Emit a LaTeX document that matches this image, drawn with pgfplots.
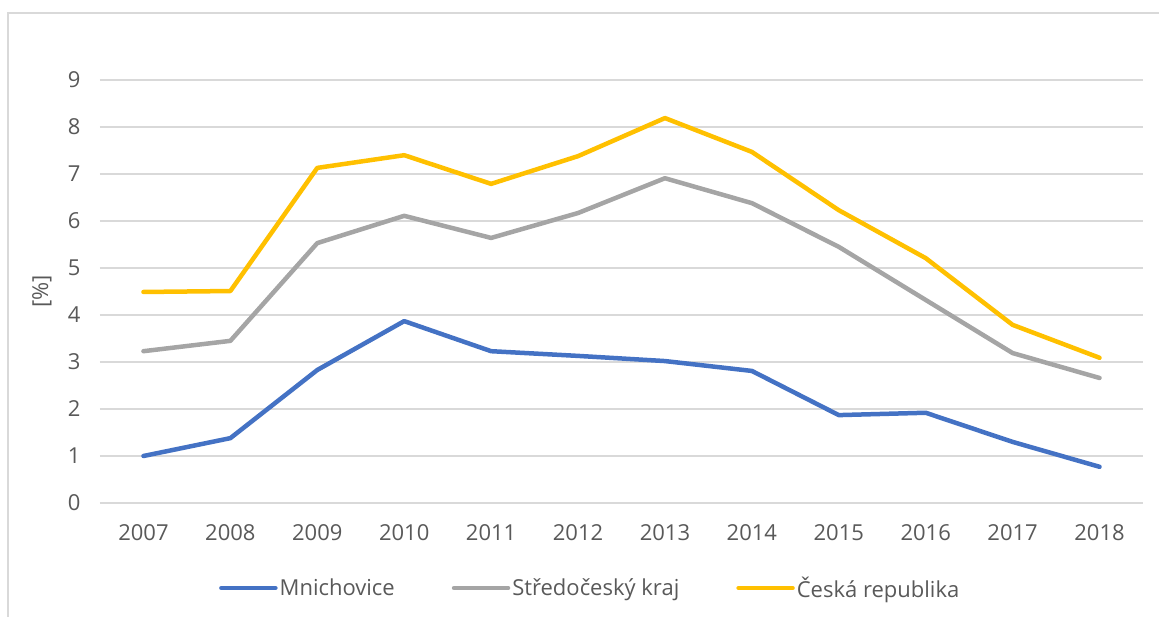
\documentclass[border=0pt]{standalone}
\usepackage{pgfplots}
\pgfplotsset{compat=1.18}
\usepackage{fontspec}
\setmainfont{Open Sans}
\definecolor{cblue}{HTML}{4472C4}
\definecolor{cgray}{HTML}{A5A5A5}
\definecolor{cyellow}{HTML}{FFC000}
\definecolor{gridc}{HTML}{D9D9D9}
\definecolor{txt}{HTML}{595959}
\begin{document}
\begin{tikzpicture}
\path[use as bounding box] (-100bp,-114bp) rectangle (1059bp,503bp);
\draw[gridc, line width=1.5bp] (1059bp,490bp) -- (-92bp,490bp) -- (-92bp,-114bp);
\begin{axis}[
  scale only axis,
  width=1043bp, height=423bp,
  xmin=-0.5, xmax=11.5, ymin=0, ymax=9,
  xtick={0,...,11},
  xticklabels={2007,2008,2009,2010,2011,2012,2013,2014,2015,2016,2017,2018},
  ytick={0,...,9},
  xmajorgrids=false,
  ymajorgrids=true,
  major grid style={draw=gridc, line width=1.3bp},
  axis line style={draw=none},
  major tick length=0pt,
  /pgf/number format/assume math mode=true,
  tick label style={font=\fontsize{22bp}{25bp}\selectfont, text=txt},
  xticklabel style={yshift=-18bp},
  yticklabel style={xshift=-16bp},
  ylabel={[\%]},
  ylabel style={font=\fontsize{22bp}{25bp}\selectfont, text=txt, at={(axis description cs:-0.0556,0.5)}, anchor=center},
  every axis plot/.append style={line width=4.5bp, line join=round, line cap=round},
  legend style={at={(0.47,-0.201)}, anchor=center, draw=none, fill=none,
    font=\fontsize{22bp}{25bp}\selectfont, text=txt,
    /tikz/every even column/.append style={column sep=55bp}},
  legend columns=3,
  legend image code/.code={\draw[#1, line cap=round] (0bp,0bp) -- (54bp,0bp);},
]
\addplot[cblue] coordinates {(0,1.00) (1,1.38) (2,2.83) (3,3.87) (4,3.23) (5,3.13) (6,3.02) (7,2.81) (8,1.87) (9,1.92) (10,1.30) (11,0.77)};
\addlegendentry{Mnichovice}
\addplot[cgray] coordinates {(0,3.23) (1,3.45) (2,5.53) (3,6.11) (4,5.64) (5,6.17) (6,6.91) (7,6.38) (8,5.45) (9,4.32) (10,3.19) (11,2.66)};
\addlegendentry{Středočeský kraj}
\addplot[cyellow] coordinates {(0,4.49) (1,4.51) (2,7.13) (3,7.40) (4,6.79) (5,7.38) (6,8.19) (7,7.47) (8,6.23) (9,5.21) (10,3.79) (11,3.09)};
\addlegendentry{Česká republika}
\end{axis}
\end{tikzpicture}
\end{document}
